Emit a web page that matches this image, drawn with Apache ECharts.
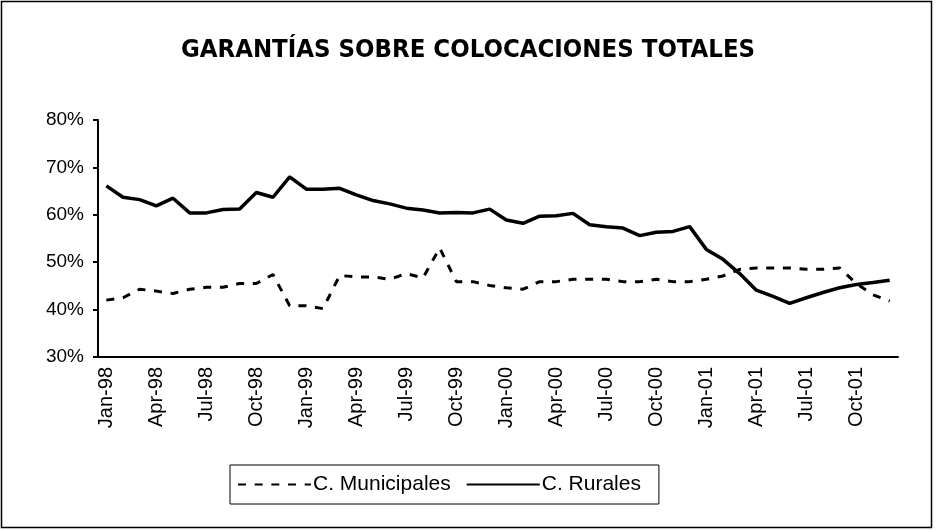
<!DOCTYPE html>
<html>
<head>
<meta charset="utf-8">
<script src="https://cdn.jsdelivr.net/npm/echarts@6/dist/echarts.min.js"></script>
<style>
  html, body { margin: 0; padding: 0; background: #fff; }
  #chart { width: 936px; height: 530px; }
</style>
</head>
<body>
<div id="chart"></div>
<script>
// meses Jan-98 .. Dec-01
var monthNames = ['Jan', 'Feb', 'Mar', 'Apr', 'May', 'Jun', 'Jul', 'Aug', 'Sep', 'Oct', 'Nov', 'Dec'];
var years = ['98', '99', '00', '01'];
var categories = [];
years.forEach(function (y) {
  monthNames.forEach(function (m) { categories.push(m + '-' + y); });
});

// % de garantías sobre colocaciones totales
var municipales = [
  42.0, 42.5, 44.3, 43.9, 43.4, 44.3, 44.7, 44.7, 45.5, 45.5, 47.4, 40.8,
  40.8, 40.2, 47.2, 46.9, 46.9, 46.4, 47.6, 46.7, 53.0, 45.9, 45.9, 45.1,
  44.6, 44.3, 45.9, 45.9, 46.4, 46.4, 46.4, 45.9, 45.9, 46.4, 45.9, 45.9,
  46.4, 47.1, 48.5, 48.8, 48.8, 48.8, 48.5, 48.5, 48.8, 45.5, 43.1, 41.8
];
var rurales = [
  66.1, 63.7, 63.2, 61.9, 63.5, 60.4, 60.4, 61.1, 61.2, 64.7, 63.7, 68.0,
  65.4, 65.4, 65.6, 64.2, 63.0, 62.3, 61.4, 61.0, 60.4, 60.5, 60.4, 61.2,
  58.9, 58.2, 59.7, 59.8, 60.3, 57.9, 57.5, 57.2, 55.6, 56.3, 56.5, 57.5,
  52.7, 50.6, 47.6, 44.1, 42.8, 41.3, 42.5, 43.6, 44.6, 45.3, 45.7, 46.2
];

var chart = echarts.init(document.getElementById('chart'));
chart.setOption({
  animation: false,
  backgroundColor: '#fff',
  title: {
    text: 'GARANTÍAS SOBRE COLOCACIONES TOTALES',
    left: 'center',
    top: 32,
    textStyle: { fontFamily: 'DejaVu Sans Condensed', fontWeight: 'bold', fontSize: 25.5, color: '#000' }
  },
  graphic: [{
    type: 'rect',
    shape: { x: 1.5, y: 1.5, width: 930, height: 526 },
    style: { fill: 'none', stroke: '#000', lineWidth: 1.5 }
  }],
  legend: {
    left: 230,
    top: 465,
    padding: [9, 18, 9, 7],
    itemWidth: 73,
    itemHeight: 14,
    itemGap: 15,
    borderColor: '#000',
    borderWidth: 1,
    itemStyle: { opacity: 0, borderWidth: 0 },
    textStyle: { fontFamily: 'Liberation Sans', fontSize: 21, color: '#000', padding: [0, 0, 0, -3] },
    data: ['C. Municipales', 'C. Rurales']
  },
  grid: { left: 98, right: 38, top: 120, bottom: 173 },
  xAxis: {
    type: 'category',
    data: categories,
    boundaryGap: true,
    axisLine: { lineStyle: { color: '#000', width: 2 } },
    axisTick: { interval: 2, length: 5, lineStyle: { color: '#000', width: 2 } },
    axisLabel: {
      interval: 2,
      rotate: 90,
      margin: 10,
      fontFamily: 'Liberation Sans',
      fontSize: 20,
      color: '#000'
    }
  },
  yAxis: {
    type: 'value',
    min: 30,
    max: 80,
    interval: 10,
    splitLine: { show: false },
    axisLine: { show: true, lineStyle: { color: '#000', width: 2 } },
    axisTick: { show: true, length: 5, lineStyle: { color: '#000', width: 2 } },
    axisLabel: {
      formatter: '{value}%',
      margin: 14,
      fontFamily: 'Liberation Sans',
      fontSize: 19,
      color: '#000'
    }
  },
  series: [
    {
      name: 'C. Municipales',
      type: 'line',
      data: municipales,
      symbol: 'none',
      itemStyle: { color: '#000' },
      lineStyle: { color: '#000', width: 3, type: [8, 8.67] }
    },
    {
      name: 'C. Rurales',
      type: 'line',
      data: rurales,
      symbol: 'none',
      itemStyle: { color: '#000' },
      lineStyle: { color: '#000', width: 3.5 }
    }
  ]
});
</script>
</body>
</html>
